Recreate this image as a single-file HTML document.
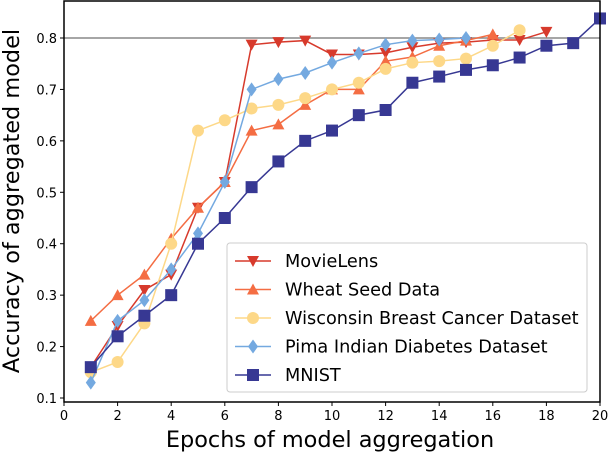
<!DOCTYPE html>
<html><head><meta charset="utf-8"><style>
body{margin:0;background:#fff;font-family:"DejaVu Sans","Liberation Sans",sans-serif}
</style></head><body>
<svg id="c" width="608" height="454" xmlns="http://www.w3.org/2000/svg" font-family="DejaVu Sans, Liberation Sans, sans-serif"></svg>
<script>
const xs=[1,2,3,4,5,6,7,8,9,10,11,12,13,14,15,16,17,18,19,20];
const movielens=[0.16,0.24,0.31,0.34,0.47,0.52,0.787,0.792,0.795,0.768,0.768,0.771,0.782,0.79,0.792,0.796,0.796,0.812];
const wheat=[0.25,0.30,0.34,0.41,0.47,0.52,0.62,0.632,0.67,0.70,0.70,0.755,0.763,0.785,0.795,0.807];
const wisconsin=[0.15,0.17,0.245,0.40,0.62,0.64,0.663,0.67,0.683,0.70,0.713,0.74,0.752,0.755,0.76,0.785,0.815];
const pima=[0.13,0.25,0.29,0.35,0.42,0.52,0.70,0.72,0.732,0.752,0.77,0.787,0.795,0.797,0.80];
const mnist=[0.16,0.22,0.26,0.30,0.40,0.45,0.51,0.56,0.60,0.62,0.65,0.66,0.713,0.725,0.738,0.747,0.762,0.785,0.79,0.838];
const xTicks=[0,2,4,6,8,10,12,14,16,18,20];
const yTicks=[0.1,0.2,0.3,0.4,0.5,0.6,0.7,0.8];
const labels=["MovieLens","Wheat Seed Data","Wisconsin Breast Cancer Dataset","Pima Indian Diabetes Dataset","MNIST"];
const colors=["#d73a2c","#f46d43","#fdd888","#74a9e0","#373893"];
const markers=["tri-down","tri-up","circle","diamond","square"];
const series=[movielens,wheat,wisconsin,pima,mnist];
const L=64,R=600,T=0,B=402;
const X=v=>L+(v-0)/20*(R-L);
const Y=v=>38+(0.8-v)*514.3;
const svg=document.getElementById('c');
const NS="http://www.w3.org/2000/svg";
function mk(t,a,p){const e=document.createElementNS(NS,t);for(const k in a)e.setAttribute(k,a[k]);(p||svg).appendChild(e);return e;}
function marker(type,cx,cy,col,g){
  let e;
  if(type==="circle")e=mk('circle',{cx,cy,r:6,fill:col},g);
  else if(type==="square")e=mk('rect',{x:cx-6,y:cy-6,width:12,height:12,fill:col},g);
  else if(type==="diamond")e=mk('polygon',{points:`${cx},${cy-7} ${cx+5},${cy} ${cx},${cy+7} ${cx-5},${cy}`,fill:col},g);
  else if(type==="tri-up")e=mk('polygon',{points:`${cx},${cy-6} ${cx+6},${cy+5} ${cx-6},${cy+5}`,fill:col},g);
  else e=mk('polygon',{points:`${cx},${cy+6} ${cx+6},${cy-5} ${cx-6},${cy-5}`,fill:col},g);
  return e;
}
const ref=mk('line',{x1:L,x2:R,y1:Y(0.8),y2:Y(0.8),stroke:'#888','stroke-width':1.5});


series.forEach((s,i)=>{
  const g=mk('g',{});
  
  
  mk('polyline',{points:s.map((v,j)=>X(xs[j])+','+Y(v)).join(' '),fill:'none',stroke:colors[i],'stroke-width':1.5},g);
  s.forEach((v,j)=>{const m=marker(markers[i],X(xs[j]),Y(v),colors[i],g);
    
    });
});
const ax=mk('rect',{x:L,y:T+1,width:R-L,height:B-T-1,fill:'none',stroke:'#000','stroke-width':1.5});


xTicks.forEach(t=>{mk('line',{x1:X(t),x2:X(t),y1:B,y2:B+4,stroke:'#000'});
  const tx=mk('text',{x:X(t),y:B+18,'text-anchor':'middle','font-size':13});tx.textContent=t;
  
  });
yTicks.forEach(t=>{mk('line',{x1:L-4,x2:L,y1:Y(t),y2:Y(t),stroke:'#000'});
  const tx=mk('text',{x:L-7,y:Y(t)+5,'text-anchor':'end','font-size':13});tx.textContent=t.toFixed(1);
  
  });
const xt=mk('text',{x:330,y:447,'text-anchor':'middle','font-size':22.4});xt.textContent='Epochs of model aggregation';


const yt=mk('text',{x:0,y:0,'text-anchor':'middle','font-size':22.4,transform:'translate(19,201) rotate(-90)'});yt.textContent='Accuracy of aggregated model';


const lg=mk('g',{});


mk('rect',{x:227,y:243,width:360,height:149,rx:3,fill:'#fff','fill-opacity':0.85,stroke:'#ccc'},lg);
labels.forEach((l,i)=>{const y=261+i*28.5;const g=mk('g',{},lg);
  
  
  mk('line',{x1:235,x2:271,y1:y,y2:y,stroke:colors[i],'stroke-width':1.5},g);
  marker(markers[i],253,y,colors[i],g);
  const t=mk('text',{x:285,y:y+6,'font-size':17.7},g);t.textContent=l;});
</script>
</body></html>
